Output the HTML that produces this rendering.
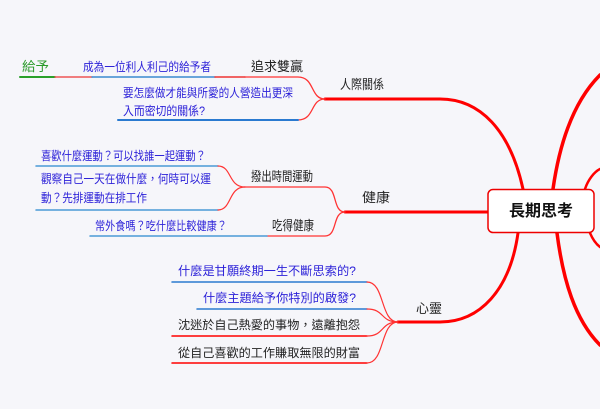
<!DOCTYPE html>
<html><head><meta charset="utf-8"><style>
html,body{margin:0;padding:0;background:#f6f6fa;}
svg{display:block}
text{font-family:"Liberation Sans","Noto Sans CJK TC",sans-serif;font-size:12px;}
.m{font-size:13px}
.b{fill:#2a1fd8}.k{fill:#222}.g{fill:#2a9a2a}
</style></head><body>
<svg width="600" height="409" viewBox="0 0 600 409" xmlns="http://www.w3.org/2000/svg">
<rect width="600" height="409" fill="#f6f6fa"/>
<g fill="none" stroke-linecap="round">
<path d="M325 99 L440 99 C480 99 510 130 523 189" stroke="#f00" stroke-width="3"/>
<path d="M345 212 L488 212" stroke="#f00" stroke-width="3"/>
<path d="M398 322 L440 322 C480 322 510 290 518 233" stroke="#f00" stroke-width="3"/>
<path d="M553 189 C560 140 575 100 600 75" stroke="#f00" stroke-width="3.5"/>
<path d="M585 189 C588 180 594 172 600 169" stroke="#f00" stroke-width="2.5"/>
<path d="M590 233 C593 240 596 244 600 247" stroke="#f00" stroke-width="2.5"/>
<path d="M557 233 C563 280 575 320 600 345" stroke="#f00" stroke-width="3.5"/>
<path d="M245 77 L298 77 C315 77 310 99 325 99" stroke="#f33" stroke-width="1.3"/>
<path d="M298 120 C315 120 310 99 325 99" stroke="#f33" stroke-width="1.3"/>
<path d="M20 77 L55 77" stroke="#2aa02a" stroke-width="2"/>
<path d="M55 77 L92 77" stroke="#e55" stroke-width="1.5"/>
<path d="M92 77 L215 77" stroke="#3a8ad0" stroke-width="1.5"/>
<path d="M215 77 L245 77" stroke="#e33" stroke-width="1.5"/>
<path d="M118 120 L298 120" stroke="#2a7ad0" stroke-width="2"/>
<path d="M245 187 L325 187 C338 187 332 212 345 212" stroke="#f33" stroke-width="1.3"/>
<path d="M267 236 L325 236 C338 236 332 212 345 212" stroke="#f33" stroke-width="1.3"/>
<path d="M36 166 L218 166" stroke="#4a9ad6" stroke-width="1.5"/>
<path d="M218 166 C232 166 228 187 245 187" stroke="#f33" stroke-width="1.2"/>
<path d="M36 210 L218 210" stroke="#4a9ad6" stroke-width="1.5"/>
<path d="M218 210 C232 210 228 187 245 187" stroke="#f33" stroke-width="1.2"/>
<path d="M90 236 L267 236" stroke="#4a9ad6" stroke-width="1.5"/>
<path d="M172 282 L367 282" stroke="#2a7ad0" stroke-width="1.5"/>
<path d="M197 309 L367 309" stroke="#2a7ad0" stroke-width="1.5"/>
<path d="M172 336 L367 336" stroke="#f00" stroke-width="1.5"/>
<path d="M172 363 L367 363" stroke="#f00" stroke-width="1.5"/>
<path d="M367 282 C385 282 380 322 398 322" stroke="#f33" stroke-width="1.2"/>
<path d="M367 309 C385 309 380 322 398 322" stroke="#f33" stroke-width="1.2"/>
<path d="M367 336 C385 336 380 322 398 322" stroke="#f33" stroke-width="1.2"/>
<path d="M367 363 C385 363 380 322 398 322" stroke="#f33" stroke-width="1.2"/>
</g>
<rect x="488" y="189.5" width="106" height="43" rx="5" fill="#fff" stroke="#e00" stroke-width="1.5"/>
<text x="541" y="216" text-anchor="middle" style="font-size:16px;font-weight:bold" fill="#111">長期思考</text>
<text class="k m" x="340" y="89" textLength="44" lengthAdjust="spacingAndGlyphs">人際關係</text>
<text class="k m" x="362" y="202" textLength="28" lengthAdjust="spacingAndGlyphs">健康</text>
<text class="k m" x="416" y="313" textLength="26" lengthAdjust="spacingAndGlyphs">心靈</text>
<text class="k m" x="251" y="71" textLength="52" lengthAdjust="spacingAndGlyphs">追求雙贏</text>
<text class="g m" x="22" y="71" textLength="27" lengthAdjust="spacingAndGlyphs">給予</text>
<text class="b" x="83" y="71" textLength="128" lengthAdjust="spacingAndGlyphs">成為一位利人利己的給予者</text>
<text class="b" x="123" y="97" textLength="170" lengthAdjust="spacingAndGlyphs">要怎麼做才能與所愛的人營造出更深</text>
<text class="b" x="123" y="115" textLength="82" lengthAdjust="spacingAndGlyphs">入而密切的關係?</text>
<text class="k m" x="251" y="181" textLength="62" lengthAdjust="spacingAndGlyphs">撥出時間運動</text>
<text class="k m" x="272" y="230" textLength="42" lengthAdjust="spacingAndGlyphs">吃得健康</text>
<text class="b" x="41" y="160" textLength="165" lengthAdjust="spacingAndGlyphs">喜歡什麼運動？可以找誰一起運動？</text>
<text class="b" x="41" y="183" textLength="170" lengthAdjust="spacingAndGlyphs">觀察自己一天在做什麼，何時可以運</text>
<text class="b" x="41" y="202" textLength="106" lengthAdjust="spacingAndGlyphs">動？先排運動在排工作</text>
<text class="b" x="95" y="230" textLength="132" lengthAdjust="spacingAndGlyphs">常外食嗎？吃什麼比較健康？</text>
<text class="b" x="178" y="275" textLength="178" lengthAdjust="spacingAndGlyphs">什麼是甘願終期一生不斷思索的?</text>
<text class="b" x="203" y="302" textLength="153" lengthAdjust="spacingAndGlyphs">什麼主題給予你特別的啟發?</text>
<text class="k" x="178" y="329" textLength="182" lengthAdjust="spacingAndGlyphs">沈迷於自己熱愛的事物，遠離抱怨</text>
<text class="k" x="178" y="357" textLength="182" lengthAdjust="spacingAndGlyphs">從自己喜歡的工作賺取無限的財富</text>
</svg>
</body></html>
